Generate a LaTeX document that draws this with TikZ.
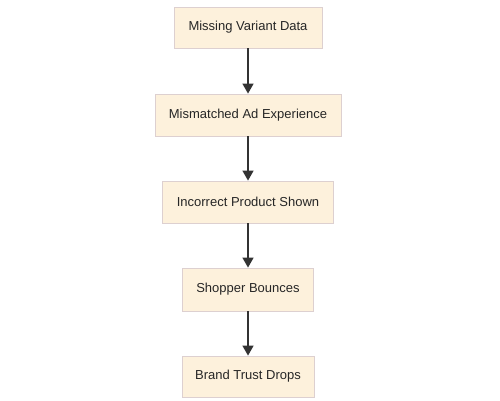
\documentclass[tikz,border=0pt]{standalone}
\usepackage{fontspec}
\setmainfont{Liberation Sans}
\usetikzlibrary{arrows.meta}
\definecolor{boxfill}{HTML}{FDF1DC}
\definecolor{boxline}{HTML}{DDD0D0}
\definecolor{arrowc}{HTML}{333333}
\begin{document}
\begin{tikzpicture}[x=1pt,y=-1pt,
  stepbox/.style={draw=boxline, fill=boxfill, line width=0.8pt, inner sep=0pt,
    font=\fontsize{13}{15}\selectfont, text=black!85},
  flow/.style={draw=arrowc, line width=1.4pt, -{Triangle[length=10pt,width=11pt]}}]
\useasboundingbox (0,0) rectangle (500,400);
\node[stepbox, minimum width=148pt, minimum height=41pt] (a) at (248,27.5) {Missing Variant Data};
\node[stepbox, minimum width=186pt, minimum height=42pt] (b) at (248,115) {Mismatched Ad Experience};
\node[stepbox, minimum width=171pt, minimum height=42pt] (c) at (248,202) {Incorrect Product Shown};
\node[stepbox, minimum width=131pt, minimum height=43pt] (d) at (248,289.5) {Shopper Bounces};
\node[stepbox, minimum width=132pt, minimum height=41pt] (e) at (248,376.5) {Brand Trust Drops};
\draw[flow] (a) -- (b);
\draw[flow] (b) -- (c);
\draw[flow] (c) -- (d);
\draw[flow] (d) -- (e);
\end{tikzpicture}
\end{document}
